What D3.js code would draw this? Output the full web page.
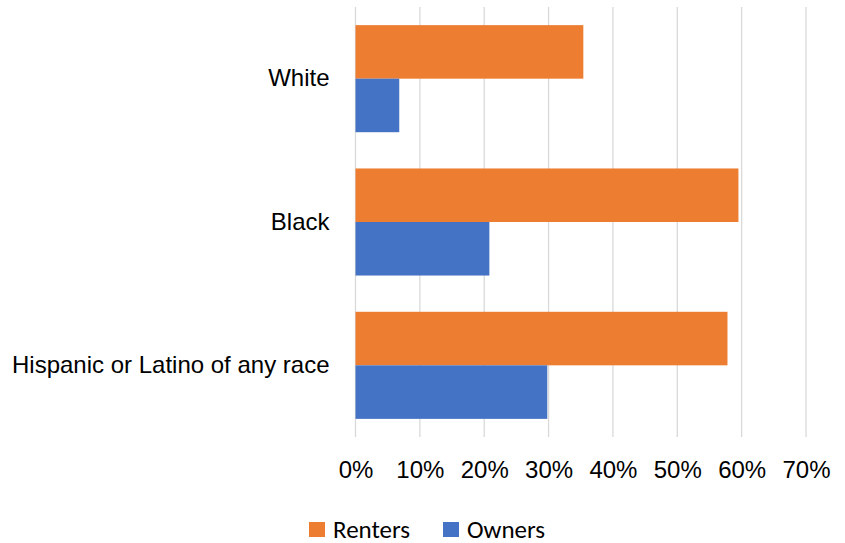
<!DOCTYPE html>
<html>
<head>
<meta charset="utf-8">
<script src="https://cdn.jsdelivr.net/npm/d3@7"></script>
<style>
  html, body { margin: 0; padding: 0; background: #fff; }
  svg { display: block; font-family: Carlito, Calibri, Lato, "Open Sans", sans-serif; }
</style>
</head>
<body>
<svg id="chart" width="845" height="543"></svg>
<script>
// Share of households by race/ethnicity, renters vs owners
const categories = ["White", "Black", "Hispanic or Latino of any race"];
const seriesNames = ["Renters", "Owners"];
const renters = [0.354, 0.595, 0.578];
const owners = [0.068, 0.208, 0.298];
const xTicks = [0, 0.1, 0.2, 0.3, 0.4, 0.5, 0.6, 0.7];
const colors = ["#ED7D31", "#4472C4"];

const rows = categories.map((c, i) => ({ category: c, Renters: renters[i], Owners: owners[i] }));

const svg = d3.select("#chart");
const margin = { top: 7, right: 39, bottom: 106, left: 355.5 };
const width = 845 - margin.left - margin.right;
const height = 543 - margin.top - margin.bottom;

const g = svg.append("g").attr("transform", `translate(${margin.left},${margin.top})`);

const x = d3.scaleLinear().domain([0, 0.7]).range([0, width]);
const y = d3.scaleBand().domain(categories).range([0, height]).paddingInner(0.253).paddingOuter(0.1265);
const ySub = d3.scaleBand().domain(seriesNames).range([0, y.bandwidth()]);

// vertical gridlines
g.append("g")
  .selectAll("line")
  .data(xTicks)
  .join("line")
  .attr("x1", d => x(d)).attr("x2", d => x(d))
  .attr("y1", 0).attr("y2", height)
  .attr("stroke", "#d9d9d9")
  .attr("stroke-width", 1.3);

// bars
const groups = g.append("g")
  .selectAll("g")
  .data(rows)
  .join("g")
  .attr("transform", d => `translate(0,${y(d.category)})`);

groups.selectAll("rect")
  .data(d => seriesNames.map((s, i) => ({ key: s, value: d[s], color: colors[i] })))
  .join("rect")
  .attr("x", x(0))
  .attr("y", d => ySub(d.key))
  .attr("width", d => x(d.value) - x(0))
  .attr("height", ySub.bandwidth())
  .attr("fill", d => d.color);

// x axis labels
const xAxis = d3.axisBottom(x).tickValues(xTicks).tickFormat(d3.format(".0%")).tickSize(0).tickPadding(24);
const xg = g.append("g").attr("transform", `translate(0,${height})`).call(xAxis);
xg.select(".domain").remove();
xg.selectAll("text").attr("font-size", 24).attr("fill", "#000").style("font-family", null);

// category labels
const yAxis = d3.axisLeft(y).tickSize(0).tickPadding(26);
const yg = g.append("g").call(yAxis);
yg.select(".domain").remove();
yg.selectAll("text").attr("font-size", 24).attr("fill", "#000").style("font-family", null);

// legend
const legend = svg.append("g").attr("transform", "translate(309,522)");
const items = [{ name: "Renters", x: 0, color: colors[0] }, { name: "Owners", x: 134, color: colors[1] }];
const li = legend.selectAll("g").data(items).join("g").attr("transform", d => `translate(${d.x},0)`);
li.append("rect").attr("width", 16).attr("height", 15).attr("fill", d => d.color);
li.append("text").attr("x", 24).attr("y", 15.5).attr("font-size", 25).attr("fill", "#000").text(d => d.name);
</script>
</body>
</html>
